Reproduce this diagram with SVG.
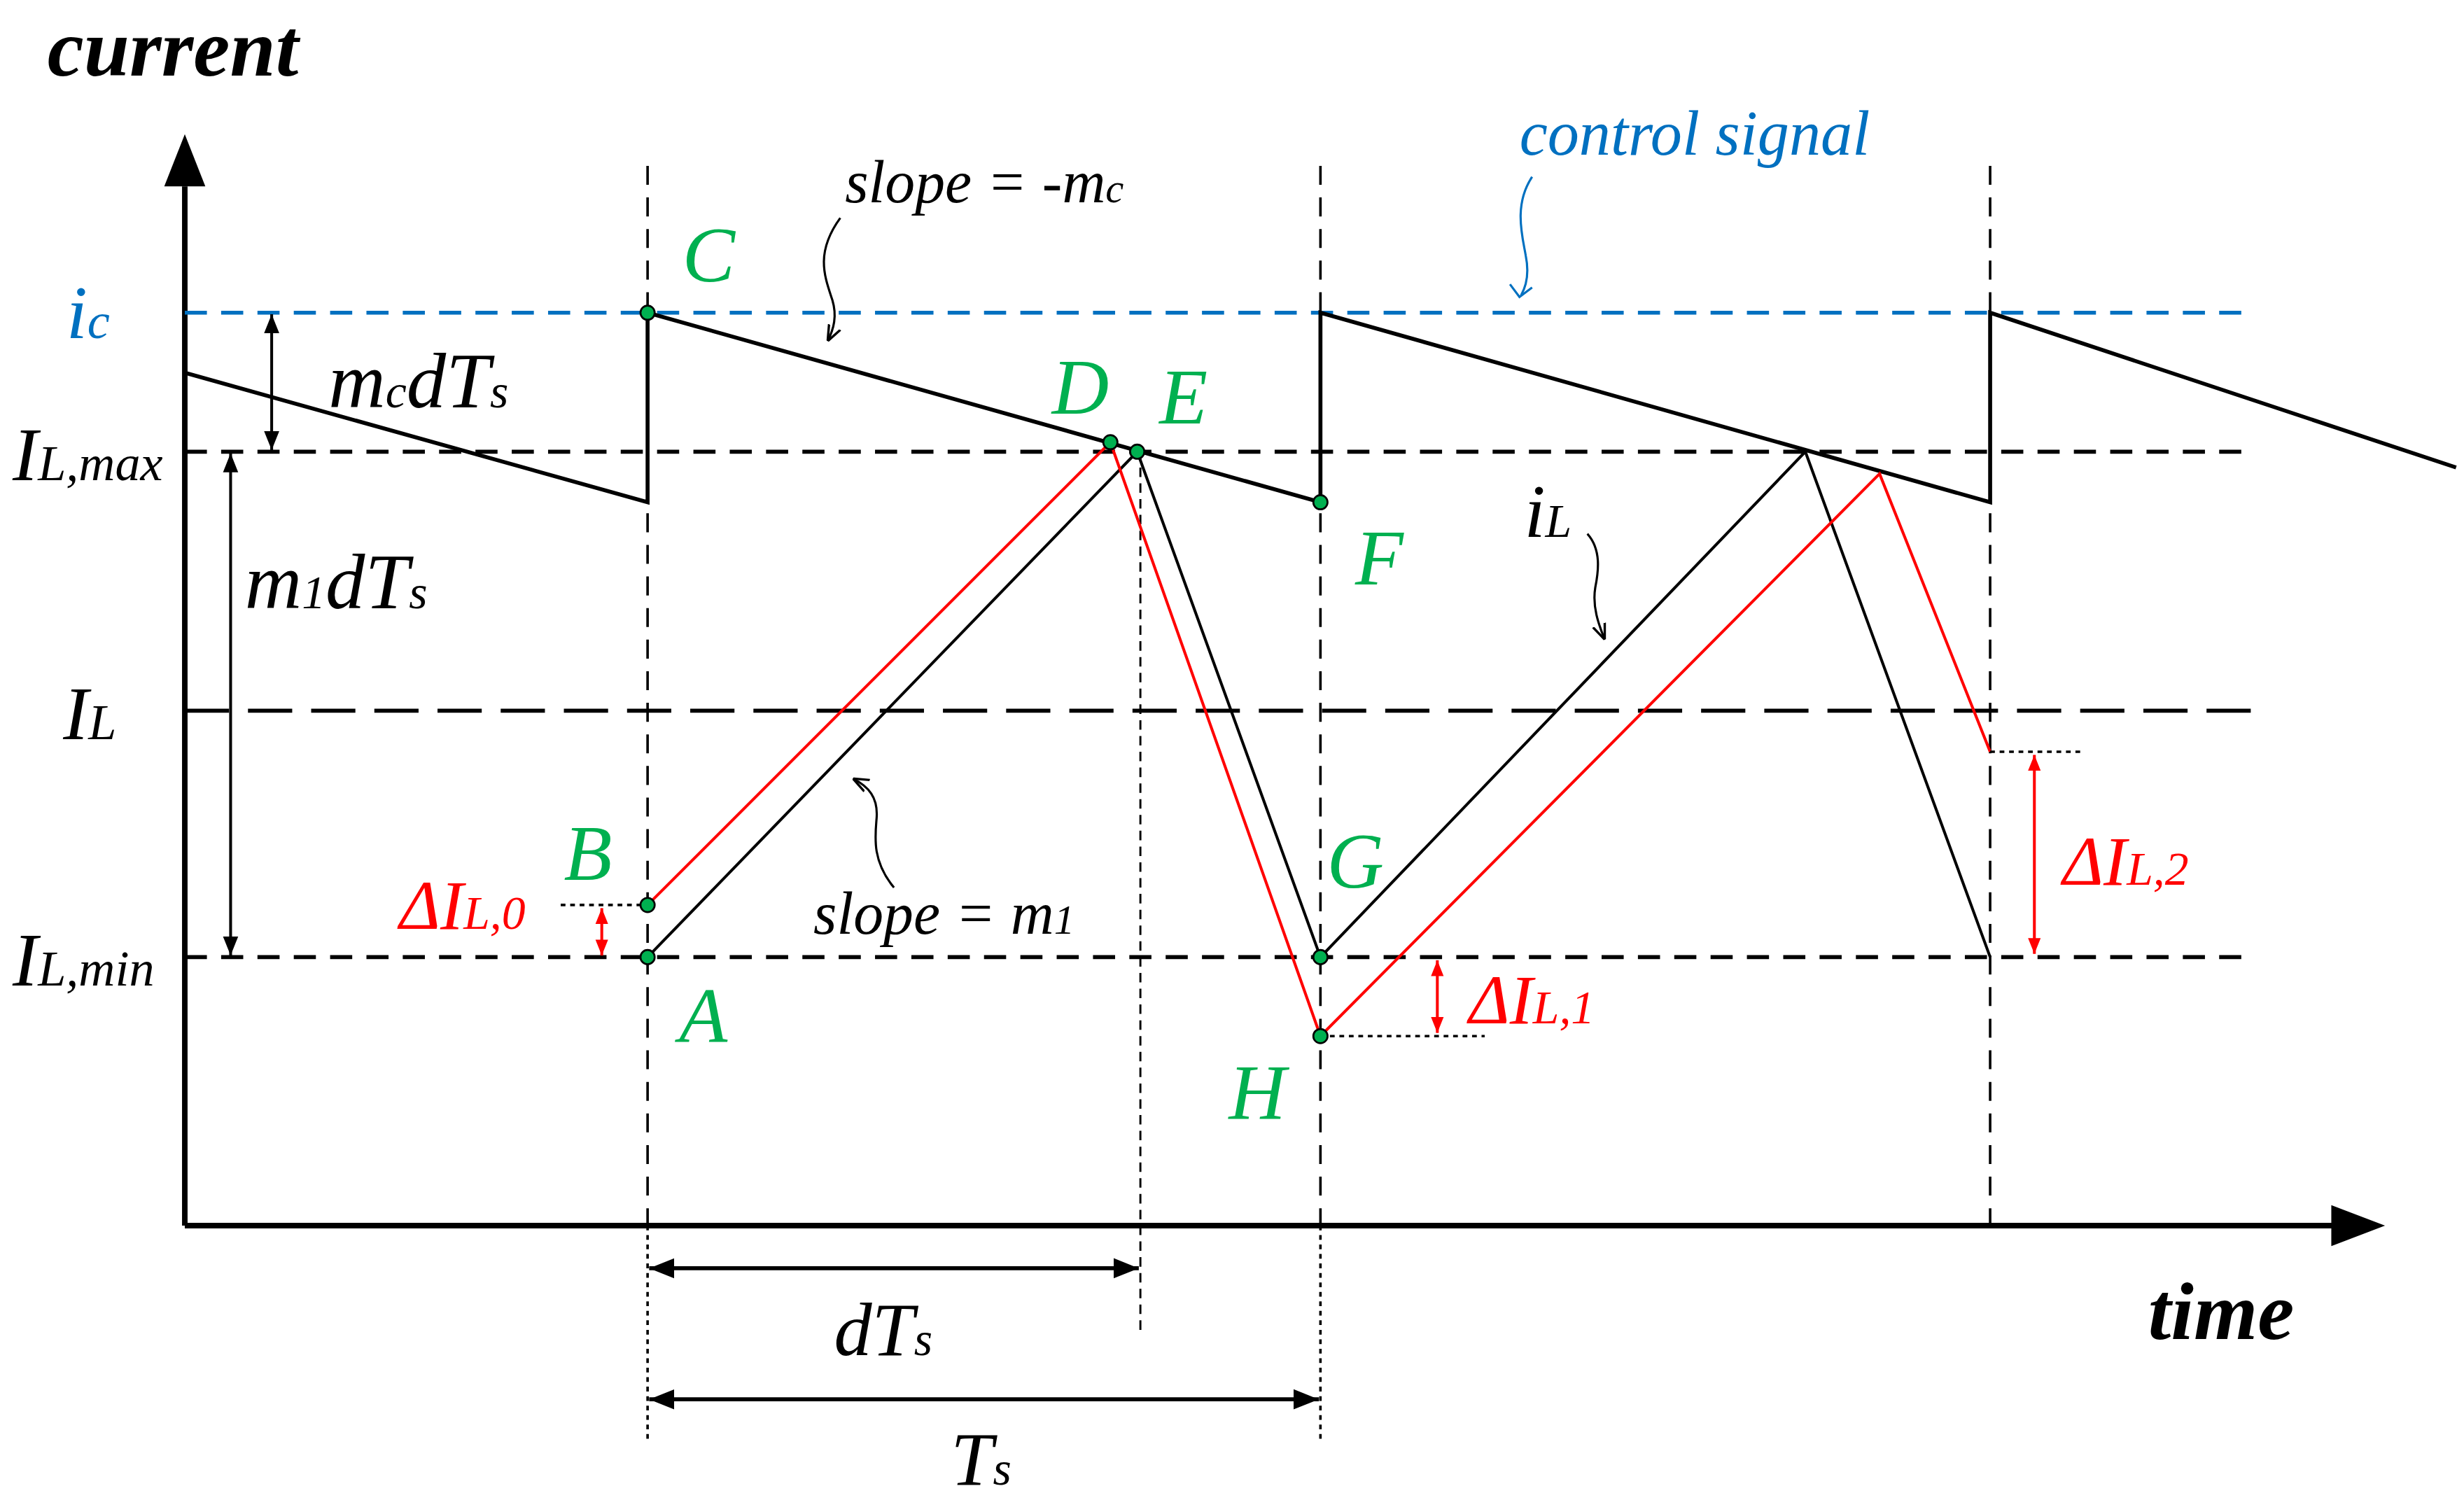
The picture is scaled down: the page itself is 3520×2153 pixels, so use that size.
<svg xmlns="http://www.w3.org/2000/svg" width="3520" height="2153" viewBox="0 0 3520 2153">
<style>
text{font-family:"Liberation Serif",serif;font-style:italic}
.g{fill:#00b050}.r{fill:#ff0000}.b{fill:#0070c0}.k{fill:#000}
.dash{stroke:#000;stroke-width:2.5;stroke-dasharray:14 9;fill:none}
.vd{stroke:#000;stroke-width:1.6;stroke-dasharray:12 8;fill:none}
.dot{stroke:#000;stroke-width:1.6;stroke-dasharray:3 3;fill:none}
.saw{stroke:#000;stroke-width:2.5;fill:none}
.il{stroke:#000;stroke-width:1.8;fill:none}
.rd{stroke:#ff0000;stroke-width:1.8;fill:none}
.pt{fill:#00b050;stroke:#000;stroke-width:1.2}
</style>
<defs>
<marker id="ah" viewBox="0 0 10 10" refX="10" refY="5" markerWidth="16" markerHeight="12" markerUnits="userSpaceOnUse" orient="auto-start-reverse"><path d="M0,1 L10,5 L0,9 Z" fill="#000"/></marker>
<marker id="ahr" viewBox="0 0 10 10" refX="10" refY="5" markerWidth="14" markerHeight="10" markerUnits="userSpaceOnUse" orient="auto-start-reverse"><path d="M0,1 L10,5 L0,9 Z" fill="#f00"/></marker>
<marker id="ahb" viewBox="0 0 10 10" refX="10" refY="5" markerWidth="16" markerHeight="16" markerUnits="userSpaceOnUse" orient="auto-start-reverse"><path d="M0,1 L10,5 L0,9 Z" fill="#000"/></marker>
<marker id="ahs" viewBox="0 0 10 10" refX="10" refY="5" markerWidth="10" markerHeight="10" markerUnits="userSpaceOnUse" orient="auto"><path d="M0,1 L10,5 L0,9" fill="none" stroke="#000" stroke-width="1.5"/></marker>
</defs>
<rect width="3520" height="2153" fill="#fff"/>
<g transform="scale(2.2564)">
<g id="connectors">
<line x1="117" y1="776" x2="117" y2="118" stroke="#000" stroke-width="3.5"/>
<path d="M117,85 L104,118 L130,118 Z" fill="#000"/>
<line x1="117" y1="776" x2="1478" y2="776" stroke="#000" stroke-width="3.5"/>
<path d="M1510,776 L1476,763 L1476,789 Z" fill="#000"/>
<line x1="117" y1="198" x2="1425" y2="198" stroke="#0070c0" stroke-width="2.5" stroke-dasharray="14 9"/>
<line x1="117" y1="286" x2="1425" y2="286" class="dash"/>
<line x1="117" y1="450" x2="1425" y2="450" stroke="#000" stroke-width="2.5" stroke-dasharray="28 12"/>
<line x1="117" y1="606" x2="1425" y2="606" class="dash"/>
<line x1="410" y1="105" x2="410" y2="776" class="vd"/>
<line x1="836" y1="105" x2="836" y2="776" class="vd"/>
<line x1="1260" y1="105" x2="1260" y2="776" class="vd"/>
<line x1="410" y1="776" x2="410" y2="912" class="dot"/>
<line x1="836" y1="776" x2="836" y2="912" class="dot"/>
<line x1="722" y1="286" x2="722" y2="845" stroke="#000" stroke-width="1.3" stroke-dasharray="6 4"/>
<polyline class="saw" points="117,236 410,318 410,198 836,318 836,198 1260,318 1260,198 1555,296"/>
<polyline class="il" points="410,606 720,286 836,606 1143,286 1260,606"/>
<polyline class="rd" points="410,573 703,280 836,656 1190,300 1260,476"/>
<line x1="355" y1="573" x2="410" y2="573" class="dot"/>
<line x1="836" y1="656" x2="940" y2="656" class="dot"/>
<line x1="1260" y1="476" x2="1318" y2="476" class="dot"/>
<line x1="381" y1="575" x2="381" y2="605" stroke="#f00" stroke-width="1.8" marker-start="url(#ahr)" marker-end="url(#ahr)"/>
<line x1="910" y1="608" x2="910" y2="654" stroke="#f00" stroke-width="1.8" marker-start="url(#ahr)" marker-end="url(#ahr)"/>
<line x1="1288" y1="478" x2="1288" y2="604" stroke="#f00" stroke-width="1.8" marker-start="url(#ahr)" marker-end="url(#ahr)"/>
<line x1="172" y1="199" x2="172" y2="285" stroke="#000" stroke-width="1.8" marker-start="url(#ah)" marker-end="url(#ah)"/>
<line x1="146" y1="287" x2="146" y2="605" stroke="#000" stroke-width="1.8" marker-start="url(#ah)" marker-end="url(#ah)"/>
<line x1="411" y1="803" x2="721" y2="803" stroke="#000" stroke-width="2.5" marker-start="url(#ahb)" marker-end="url(#ahb)"/>
<line x1="411" y1="886" x2="835" y2="886" stroke="#000" stroke-width="2.5" marker-start="url(#ahb)" marker-end="url(#ahb)"/>
<path d="M532,138 C516,160 522,175 527,190 C530,200 528,208 524,216" stroke="#000" stroke-width="1.4" fill="none" marker-end="url(#ahs)"/>
<path d="M970,112 C958,130 964,150 966,162 C968,172 967,180 963,187" stroke="#0070c0" stroke-width="1.4" fill="none"/>
<path d="M956,180 L962,188 L970,182" stroke="#0070c0" stroke-width="1.4" fill="none"/>
<path d="M1005,338 C1014,348 1012,362 1010,372 C1008,384 1012,395 1016,405" stroke="#000" stroke-width="1.4" fill="none" marker-end="url(#ahs)"/>
<path d="M566,562 C552,545 554,530 555,518 C556,505 550,498 540,493" stroke="#000" stroke-width="1.4" fill="none" marker-end="url(#ahs)"/>
</g>
<g id="points">
<circle class="pt" cx="410" cy="198" r="4.5"/>
<circle class="pt" cx="703" cy="280" r="4.5"/>
<circle class="pt" cx="720" cy="286" r="4.5"/>
<circle class="pt" cx="836" cy="318" r="4.5"/>
<circle class="pt" cx="410" cy="573" r="4.5"/>
<circle class="pt" cx="410" cy="606" r="4.5"/>
<circle class="pt" cx="836" cy="606" r="4.5"/>
<circle class="pt" cx="836" cy="656" r="4.5"/>
</g>
<g id="labels">
<text x="30" y="48" font-size="52" font-weight="bold" class="k">current</text>
<text x="1360" y="848" font-size="52" font-weight="bold" class="k">time</text>
<text x="42" y="214" font-size="48" class="b">i<tspan font-size="32">c</tspan></text>
<text x="8" y="304" font-size="48" class="k">I<tspan font-size="32">L,max</tspan></text>
<text x="40" y="468" font-size="48" class="k">I<tspan font-size="32">L</tspan></text>
<text x="8" y="624" font-size="48" class="k">I<tspan font-size="32">L,min</tspan></text>
<text x="208" y="258" font-size="50" class="k">m<tspan font-size="30">c</tspan>dT<tspan font-size="30">s</tspan></text>
<text x="155" y="385" font-size="50" class="k">m<tspan font-size="30">1</tspan>dT<tspan font-size="30">s</tspan></text>
<text x="535" y="128" font-size="38" class="k">slope = -m<tspan font-size="26">c</tspan></text>
<text x="515" y="591" font-size="38" class="k">slope = m<tspan font-size="26">1</tspan></text>
<text x="962" y="98" font-size="40" class="b">control signal</text>
<text x="965" y="340" font-size="48" class="k">i<tspan font-size="30">L</tspan></text>
<text x="432" y="178" font-size="50" class="g">C</text>
<text x="666" y="262" font-size="50" class="g">D</text>
<text x="734" y="268" font-size="50" class="g">E</text>
<text x="858" y="370" font-size="50" class="g">F</text>
<text x="357" y="557" font-size="50" class="g">B</text>
<text x="430" y="660" font-size="50" class="g">A</text>
<text x="840" y="562" font-size="50" class="g">G</text>
<text x="778" y="708" font-size="50" class="g">H</text>
<text x="253" y="588" font-size="44" class="r">ΔI<tspan font-size="30">L,0</tspan></text>
<text x="930" y="648" font-size="44" class="r">ΔI<tspan font-size="30">L,1</tspan></text>
<text x="1306" y="560" font-size="44" class="r">ΔI<tspan font-size="30">L,2</tspan></text>
<text x="528" y="858" font-size="48" class="k">dT<tspan font-size="30">s</tspan></text>
<text x="602" y="940" font-size="48" class="k">T<tspan font-size="30">s</tspan></text>
</g>
</g>
</svg>
